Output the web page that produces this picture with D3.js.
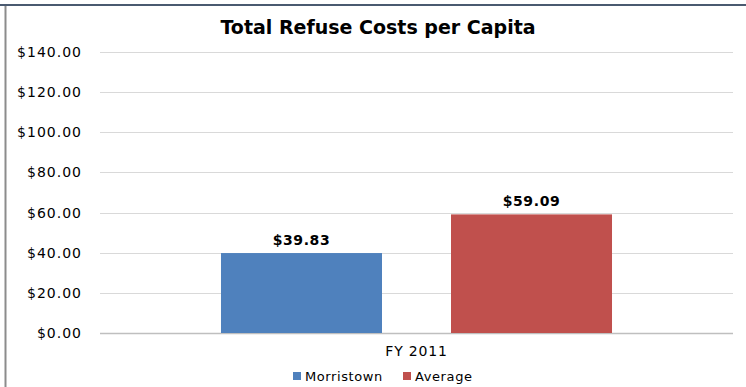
<!DOCTYPE html>
<html><head><meta charset="utf-8">
<script src="https://cdn.jsdelivr.net/npm/d3@7"></script>
<style>body{margin:0;background:#fff}svg{display:block}</style>
</head><body>
<script>
const categories = ["FY 2011"];
const seriesNames = ["Morristown", "Average"];
const seriesColors = ["#4F81BD", "#C0504D"];
const morristown = [39.83];
const average = [59.09];
const tickValues = [0, 20, 40, 60, 80, 100, 120, 140];
const title = "Total Refuse Costs per Capita";

const W = 746, H = 387;
const svg = d3.select("body").append("svg").attr("width", W).attr("height", H);
svg.append("rect").attr("width", W).attr("height", H).attr("fill", "#fff");
// frame
svg.append("line").attr("x1", 0).attr("x2", W).attr("y1", 5).attr("y2", 5).attr("stroke", "#4a5a70").attr("stroke-width", 2);
svg.append("line").attr("x1", 5.5).attr("x2", 5.5).attr("y1", 6).attr("y2", H).attr("stroke", "#8c8c8c").attr("stroke-width", 2);

const font = "'DejaVu Sans', Verdana, sans-serif";
const m = {left: 100, right: 733, top: 52, bottom: 333};
const y = d3.scaleLinear().domain([0, 140]).range([m.bottom, m.top]);
const x0 = d3.scaleBand().domain(categories).range([m.left, m.right]).paddingInner(0).paddingOuter(0);
const x1 = d3.scaleBand().domain(seriesNames).range([0, x0.bandwidth()]).paddingInner(0.3).paddingOuter(0.526);

svg.append("text").attr("x", 378).attr("y", 34).attr("text-anchor", "middle")
  .attr("font-family", font).attr("font-weight", "bold").attr("font-size", 19).attr("fill", "#000").text(title);

// grid
svg.append("g").selectAll("line").data(tickValues).join("line")
  .attr("x1", m.left).attr("x2", m.right)
  .attr("y1", d => Math.round(y(d)) + 0.5).attr("y2", d => Math.round(y(d)) + 0.5)
  .attr("stroke", d => d === 0 ? "#bfbfbf" : "#d9d9d9").attr("stroke-width", d => d === 0 ? 1.5 : 1);

const yAxis = d3.axisLeft(y).tickValues(tickValues).tickFormat(d => "$" + d3.format(".2f")(d)).tickSize(0).tickPadding(0);
const ga = svg.append("g").attr("transform", `translate(82,0)`).call(yAxis);
ga.select(".domain").remove();
ga.selectAll("text").attr("font-family", font).attr("font-size", 14).attr("letter-spacing", 1).attr("fill", "#000");

const data = categories.map((c, i) => ({cat: c, vals: [morristown[i], average[i]]}));
const g = svg.append("g");
data.forEach(d => {
  d.vals.forEach((v, j) => {
    const xx = x0(d.cat) + x1(seriesNames[j]);
    g.append("rect").attr("x", xx).attr("y", y(v)).attr("width", x1.bandwidth()).attr("height", y(0) - y(v))
      .attr("fill", seriesColors[j]);
    g.append("text").attr("x", xx + x1.bandwidth() / 2).attr("y", y(v) - 8).attr("text-anchor", "middle")
      .attr("font-family", font).attr("font-weight", "bold").attr("font-size", 14).attr("letter-spacing", 0.6).attr("fill", "#000")
      .text("$" + d3.format(".2f")(v));
  });
  svg.append("text").attr("x", x0(d.cat) + x0.bandwidth() / 2).attr("y", 356).attr("text-anchor", "middle")
    .attr("font-family", font).attr("font-size", 14).attr("letter-spacing", 0.8).attr("fill", "#000").text(d.cat);
});

// legend
const leg = svg.append("g");
const legX = [293, 403];
seriesNames.forEach((s, j) => {
  leg.append("rect").attr("x", legX[j]).attr("y", 372).attr("width", 8).attr("height", 8).attr("fill", seriesColors[j]);
  leg.append("text").attr("x", legX[j] + 12).attr("y", 381).attr("font-family", font).attr("font-size", 13).attr("letter-spacing", 0.6).attr("fill", "#000").text(s);
});
</script>
</body></html>
